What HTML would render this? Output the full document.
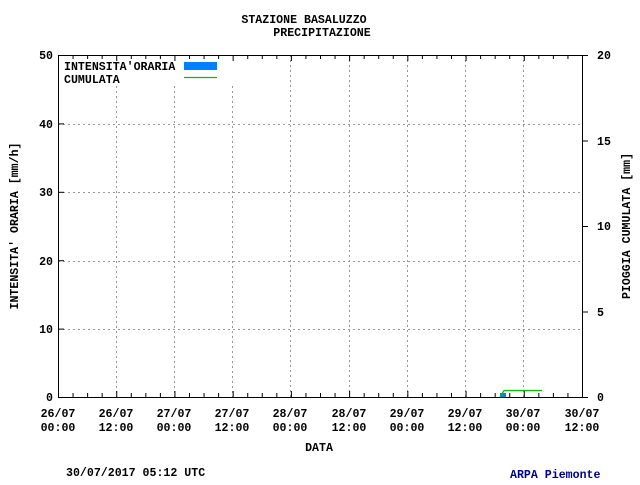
<!DOCTYPE html>
<html><head><style>
body{margin:0;background:#fff;width:640px;height:480px;overflow:hidden}
text{font-family:"Liberation Mono","DejaVu Sans Mono",monospace;font-size:11.6px;font-weight:bold;fill:#000}
</style></head><body>
<svg width="640" height="480" xmlns="http://www.w3.org/2000/svg">
<text x="304" y="23" text-anchor="middle">STAZIONE BASALUZZO</text>
<text x="322" y="36" text-anchor="middle">PRECIPITAZIONE</text>
<g stroke="#999" stroke-dasharray="2,3" stroke-width="1">
<line x1="58" y1="124.5" x2="582" y2="124.5"/>
<line x1="58" y1="192.5" x2="582" y2="192.5"/>
<line x1="58" y1="261.5" x2="582" y2="261.5"/>
<line x1="58" y1="329.5" x2="582" y2="329.5"/>
<line x1="116.5" y1="86" x2="116.5" y2="397"/>
<line x1="174.5" y1="86" x2="174.5" y2="397"/>
<line x1="232.5" y1="86" x2="232.5" y2="397"/>
<line x1="290.5" y1="55" x2="290.5" y2="397"/>
<line x1="349.5" y1="55" x2="349.5" y2="397"/>
<line x1="407.5" y1="55" x2="407.5" y2="397"/>
<line x1="465.5" y1="55" x2="465.5" y2="397"/>
<line x1="523.5" y1="55" x2="523.5" y2="397"/>
</g>
<g stroke="#000" stroke-width="1" fill="none">
<rect x="58.5" y="55.5" width="524" height="342"/>
</g>
<g stroke="#000" stroke-width="1" id="ticks"></g>
<rect x="500" y="393" width="6" height="4" fill="#0080ff"/>
<polyline points="500,397 504,390.5 542,390.5" fill="none" stroke="#00c000" stroke-width="1.3"/>
<rect x="184" y="62" width="33" height="8" fill="#0080ff"/>
<line x1="184" y1="77.5" x2="217" y2="77.5" stroke="#00c000" stroke-width="1.3"/>
<text x="64" y="70">INTENSITA'ORARIA</text>
<text x="64" y="83">CUMULATA</text>
<g text-anchor="end">
<text x="53" y="59">50</text><text x="53" y="128">40</text><text x="53" y="196">30</text>
<text x="53" y="265">20</text><text x="53" y="333">10</text><text x="53" y="401">0</text>
</g>
<g>
<text x="597" y="59">20</text><text x="597" y="145">15</text><text x="597" y="230">10</text>
<text x="597" y="316">5</text><text x="597" y="401">0</text>
</g>
<g text-anchor="middle">
<text x="58" y="417">26/07</text><text x="58" y="431">00:00</text>
<text x="116" y="417">26/07</text><text x="116" y="431">12:00</text>
<text x="174" y="417">27/07</text><text x="174" y="431">00:00</text>
<text x="232" y="417">27/07</text><text x="232" y="431">12:00</text>
<text x="290" y="417">28/07</text><text x="290" y="431">00:00</text>
<text x="349" y="417">28/07</text><text x="349" y="431">12:00</text>
<text x="407" y="417">29/07</text><text x="407" y="431">00:00</text>
<text x="465" y="417">29/07</text><text x="465" y="431">12:00</text>
<text x="523" y="417">30/07</text><text x="523" y="431">00:00</text>
<text x="582" y="417">30/07</text><text x="582" y="431">12:00</text>
<text x="319" y="451">DATA</text>
</g>
<text transform="translate(18,226) rotate(-90)" text-anchor="middle">INTENSITA' ORARIA [mm/h]</text>
<text transform="translate(630,226) rotate(-90)" text-anchor="middle">PIOGGIA CUMULATA [mm]</text>
<text x="66" y="476">30/07/2017 05:12 UTC</text>
<text x="510" y="478" style="fill:#00008b">ARPA Piemonte</text>
</svg>
<script>
var g=document.getElementById('ticks'),s='';
for(var i=0;i<=36;i++){var x=58.5+i*524/36;var L=(i%4==0)?6:4;
s+='<line x1="'+x+'" y1="55" x2="'+x+'" y2="'+(55+L)+'"/>';
s+='<line x1="'+x+'" y1="397" x2="'+x+'" y2="'+(397-L)+'"/>';}
for(var j=0;j<=5;j++){var y=55.5+j*68.4;s+='<line x1="58" y1="'+y+'" x2="64" y2="'+y+'"/>';}
for(var k=0;k<=4;k++){var y=55.5+k*85.5;s+='<line x1="582" y1="'+y+'" x2="588" y2="'+y+'"/>';}
g.innerHTML=s;
</script>
</body></html>
